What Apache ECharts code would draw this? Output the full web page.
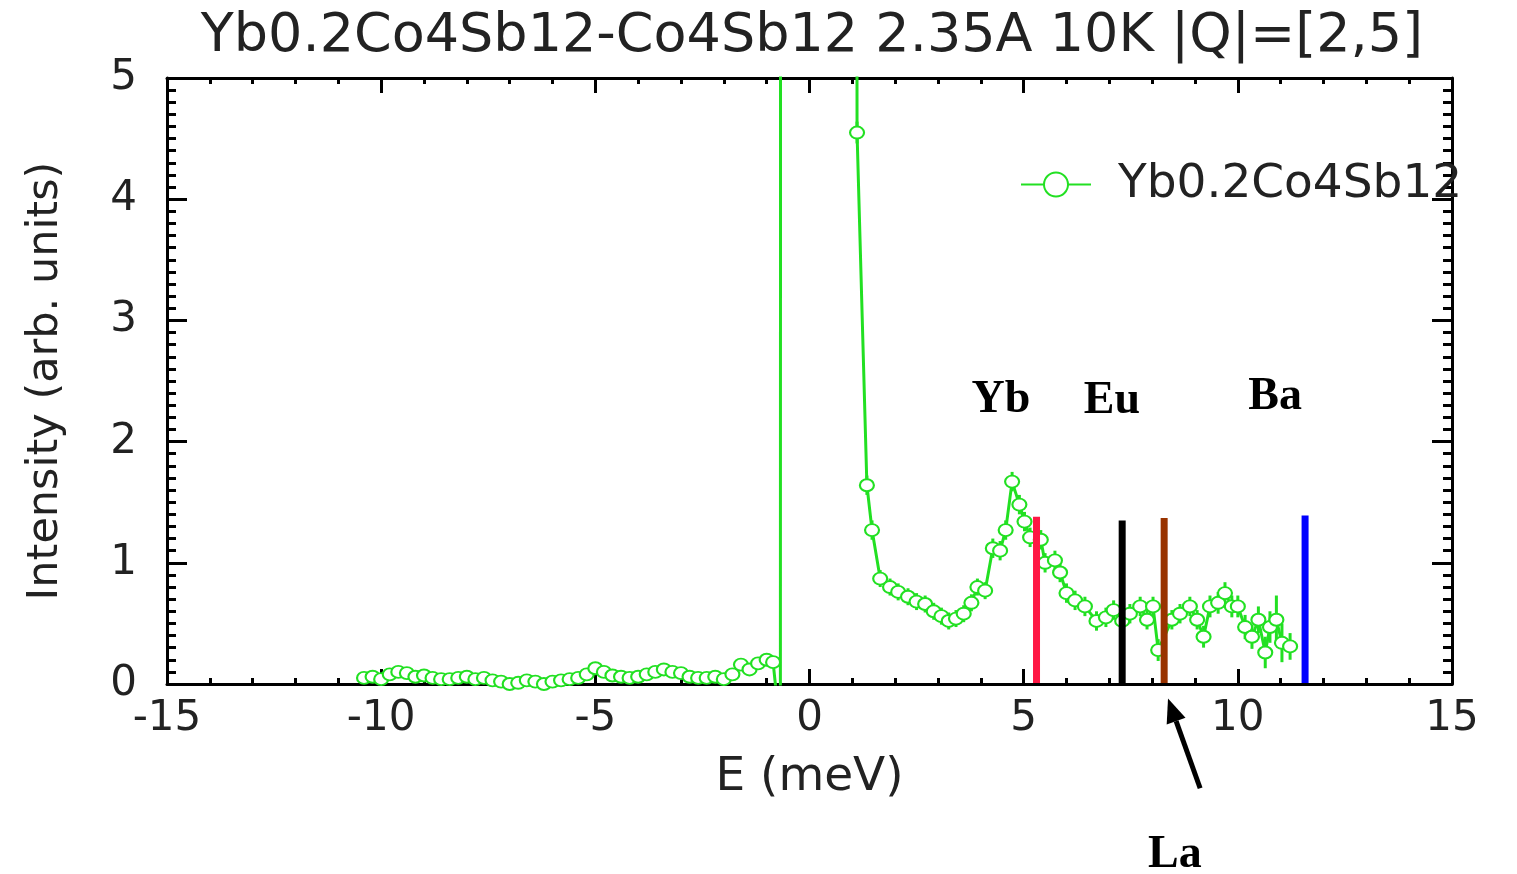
<!DOCTYPE html>
<html>
<head>
<meta charset="utf-8">
<script src="https://cdn.jsdelivr.net/npm/echarts@6/dist/echarts.min.js"></script>
<style>
html,body{margin:0;padding:0;background:#fff;}
#chart{width:1517px;height:874px;}
</style>
</head>
<body>
<div id="chart"></div>
<script>
// ---- data ----
const energy = [
  -10.4,-10.2,-10.0,-9.8,-9.6,-9.4,-9.2,-9.0,-8.8,-8.6,-8.4,-8.2,-8.0,-7.8,-7.6,-7.4,-7.2,-7.0,
  -6.8,-6.6,-6.4,-6.2,-6.0,-5.8,-5.6,-5.4,-5.2,-5.0,-4.8,-4.6,-4.4,-4.2,-4.0,-3.8,-3.6,-3.4,
  -3.2,-3.0,-2.8,-2.6,-2.4,-2.2,-2.0,-1.8,-1.6,-1.4,-1.2,-1.0,-0.85,
  -0.68,-0.66,0.2,1.06,
  1.11,1.34,1.46,1.65,1.88,2.07,2.3,2.5,2.7,2.9,3.08,3.25,3.42,3.6,3.78,3.92,4.1,4.28,4.45,4.58,
  4.73,4.9,5.02,5.15,5.4,5.5,5.73,5.85,6.0,6.2,6.43,6.7,6.92,7.1,7.3,7.48,7.72,7.88,8.02,8.14,
  8.46,8.65,8.88,9.05,9.2,9.35,9.54,9.7,9.86,10.0,10.17,10.33,10.48,10.64,10.75,10.9,11.03,11.22
];
const intensity = [
  0.05,0.06,0.04,0.08,0.10,0.09,0.06,0.07,0.05,0.04,0.04,0.05,0.06,0.04,0.05,0.03,0.02,0.0,
  0.01,0.03,0.02,0.0,0.02,0.03,0.04,0.05,0.08,0.13,0.10,0.07,0.06,0.05,0.06,0.08,0.10,0.12,
  0.10,0.09,0.06,0.05,0.05,0.06,0.04,0.08,0.16,0.12,0.17,0.20,0.18,
  -0.4,30,300,30,
  4.55,1.64,1.27,0.87,0.80,0.76,0.72,0.68,0.66,0.60,0.56,0.52,0.54,0.58,0.67,0.80,0.77,1.12,1.10,1.27,
  1.67,1.48,1.34,1.21,1.19,1.00,1.02,0.92,0.75,0.69,0.64,0.52,0.55,0.61,0.52,0.58,0.64,0.53,0.64,0.28,
  0.53,0.58,0.64,0.53,0.39,0.64,0.67,0.75,0.64,0.64,0.47,0.39,0.53,0.26,0.47,0.53,0.34,0.31
];
const errorBar = [
  0.04,0.04,0.04,0.04,0.04,0.04,0.04,0.04,0.04,0.04,0.04,0.04,0.04,0.04,0.04,0.04,0.04,0.04,
  0.04,0.04,0.04,0.04,0.04,0.04,0.04,0.04,0.04,0.04,0.04,0.04,0.04,0.04,0.04,0.04,0.04,0.04,
  0.04,0.04,0.04,0.04,0.04,0.04,0.04,0.05,0.05,0.05,0.05,0.05,0.05,
  0,0,0,0,
  0.09,0.08,0.08,0.07,0.07,0.07,0.07,0.07,0.07,0.07,0.07,0.07,0.07,0.07,0.07,0.07,0.07,0.08,0.08,0.08,
  0.08,0.08,0.08,0.08,0.08,0.08,0.08,0.08,0.08,0.08,0.08,0.08,0.08,0.08,0.08,0.08,0.08,0.08,0.08,0.09,
  0.08,0.08,0.08,0.08,0.09,0.09,0.09,0.09,0.09,0.09,0.1,0.1,0.11,0.13,0.13,0.2,0.16,0.11
];
const xTicks = [-15,-10,-5,0,5,10,15];
const yTicks = [0,1,2,3,4,5];
const seriesName = 'Yb0.2Co4Sb12';
const titleText = 'Yb0.2Co4Sb12-Co4Sb12 2.35A 10K |Q|=[2,5]';

// reference lines for guest-atom modes
const refNames = ['Yb','Eu','La','Ba'];
const refEnergy = [5.3, 7.3, 8.28, 11.57];
const refHeight = [1.38, 1.35, 1.37, 1.39];
const refColors = ['#ff1744','#000000','#993300','#0000ff'];

// annotation labels (data coordinates)
const labelText = ['Yb','Eu','Ba','La'];
const labelE = [4.47, 7.06, 10.87, 8.53];
const labelI = [2.34, 2.33, 2.37, -1.41];
const arrowTail = [9.12, -0.86];
const arrowHead = [8.37, -0.12];

// ---- chart ----
const green = '#22e022';
const pts = energy.map((e,i)=>[e, intensity[i], errorBar[i]]);
const chart = echarts.init(document.getElementById('chart'));
const sansFont = 'DejaVu Sans';
const lineStyleAxis = {color:'#000', width:3};

const option = {
  animation:false,
  backgroundColor:'#fff',
  title:{
    text:titleText, left:807, top:5, textAlign:'center',
    textStyle:{fontFamily:sansFont, fontSize:54, fontWeight:'normal', color:'#222'}
  },
  legend:{
    data:[seriesName], left:1015, top:156, itemWidth:70, itemHeight:30,
    textStyle:{fontFamily:sansFont, fontSize:47, color:'#222', padding:[0,0,0,22]}
  },
  grid:{left:167, right:65, top:78, bottom:190},
  xAxis:[{
    type:'value', min:xTicks[0], max:xTicks[xTicks.length-1], interval:5,
    axisLine:{show:true, onZero:false, lineStyle:lineStyleAxis},
    axisTick:{show:true, inside:true, length:15, lineStyle:{color:'#000', width:3}},
    minorTick:{show:true, splitNumber:5, length:6, lineStyle:{color:'#000', width:3}},
    splitLine:{show:false},
    axisLabel:{fontFamily:sansFont, fontSize:42, color:'#222', margin:14},
    name:'E (meV)', nameLocation:'middle', nameGap:70,
    nameTextStyle:{fontFamily:sansFont, fontSize:47, color:'#222'}
  },{
    type:'value', position:'top', min:xTicks[0], max:xTicks[xTicks.length-1], interval:5,
    axisLine:{show:true, onZero:false, lineStyle:lineStyleAxis},
    axisTick:{show:true, inside:true, length:15, lineStyle:{color:'#000', width:3}},
    minorTick:{show:true, splitNumber:5, length:6, lineStyle:{color:'#000', width:3}},
    splitLine:{show:false}, axisLabel:{show:false}
  }],
  yAxis:[{
    type:'value', min:yTicks[0], max:yTicks[yTicks.length-1], interval:1,
    axisLine:{show:true, onZero:false, lineStyle:lineStyleAxis},
    axisTick:{show:true, inside:true, length:20, lineStyle:{color:'#000', width:3}},
    minorTick:{show:true, splitNumber:10, length:9, lineStyle:{color:'#000', width:3}},
    splitLine:{show:false},
    axisLabel:{fontFamily:sansFont, fontSize:42, color:'#222', margin:30},
    name:'Intensity (arb. units)', nameLocation:'middle', nameGap:100, nameRotate:90,
    nameTextStyle:{fontFamily:sansFont, fontSize:43, color:'#222'}
  },{
    type:'value', position:'right', min:yTicks[0], max:yTicks[yTicks.length-1], interval:1,
    axisLine:{show:true, onZero:false, lineStyle:lineStyleAxis},
    axisTick:{show:true, inside:true, length:20, lineStyle:{color:'#000', width:3}},
    minorTick:{show:true, splitNumber:10, length:9, lineStyle:{color:'#000', width:3}},
    splitLine:{show:false}, axisLabel:{show:false}
  }],
  series:[
    {
      name:seriesName, type:'line', data:pts.map(p=>[p[0],p[1]]),
      symbol:'emptyCircle', symbolSize:[14,12], showAllSymbol:true,
      lineStyle:{color:green, width:3}, itemStyle:{color:green, borderWidth:2.5},
      clip:true, z:3
    },
    {
      type:'custom', clip:true, z:3,
      data:pts,
      renderItem:function(params, api){
        const e = api.value(0), v = api.value(1), er = api.value(2);
        if(!er) return null;
        const lo = api.coord([e, v-er]), hi = api.coord([e, v+er]);
        return {type:'line', shape:{x1:lo[0],y1:lo[1],x2:hi[0],y2:hi[1]},
          style:{stroke:green, lineWidth:3}};
      }
    },
    {
      type:'custom', clip:false, z:4,
      data:refEnergy.map((e,i)=>[e, refHeight[i], i]),
      renderItem:function(params, api){
        const e = api.value(0), h = api.value(1), k = api.value(2);
        const lo = api.coord([e, 0]), hi = api.coord([e, h]);
        return {type:'line', shape:{x1:lo[0],y1:lo[1]-1,x2:hi[0],y2:hi[1]},
          style:{stroke:refColors[k], lineWidth:7}};
      }
    },
    {
      type:'custom', clip:false, z:5,
      data:labelText.map((t,i)=>[labelE[i], labelI[i], i]),
      renderItem:function(params, api){
        const p = api.coord([api.value(0), api.value(1)]);
        return {type:'text', x:p[0], y:p[1],
          style:{text:labelText[api.value(2)], fill:'#000', align:'center', verticalAlign:'middle',
            font:'bold 46px "Liberation Serif"'}};
      }
    },
    {
      type:'custom', clip:false, z:5,
      data:[[arrowTail[0], arrowTail[1], arrowHead[0], arrowHead[1]]],
      renderItem:function(params, api){
        const t = api.coord([api.value(0), api.value(1)]);
        const h = api.coord([api.value(2), api.value(3)]);
        const dx = h[0]-t[0], dy = h[1]-t[1], L = Math.sqrt(dx*dx+dy*dy);
        const ux = dx/L, uy = dy/L, hl = 24, hw = 10;
        const bx = h[0]-ux*hl, by = h[1]-uy*hl;
        return {type:'group', children:[
          {type:'line', shape:{x1:t[0],y1:t[1],x2:bx,y2:by}, style:{stroke:'#000', lineWidth:5}},
          {type:'polygon', shape:{points:[[h[0],h[1]],[bx-uy*hw,by+ux*hw],[bx+uy*hw,by-ux*hw]]},
            style:{fill:'#000'}}
        ]};
      }
    }
  ]
};
chart.setOption(option);
</script>
</body>
</html>
